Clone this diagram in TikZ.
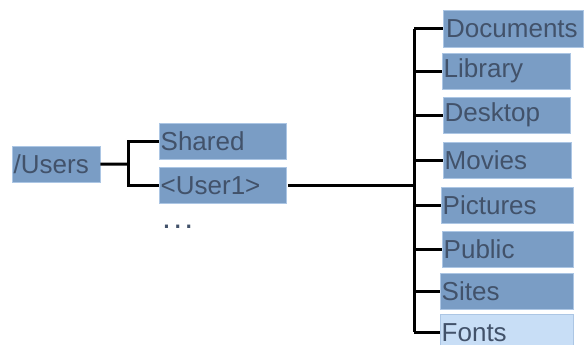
\documentclass[tikz,border=0pt]{standalone}
\usepackage{fontspec}
\setmainfont{Liberation Sans}
\usetikzlibrary{positioning}
\definecolor{dirfill}{RGB}{122,157,197}
\definecolor{dirtext}{RGB}{66,82,106}
\definecolor{dirline}{RGB}{172,198,228}
\definecolor{newfill}{RGB}{200,222,246}
\tikzset{
    %Define style for folder boxes
    folder/.style={
           rectangle,
           draw=dirline, thin,
           fill=dirfill,
           text=dirtext,
           anchor=north west,
           text width=#1,
           align=left,
           minimum height=36pt,
           inner xsep=1.5pt, inner ysep=0pt,
           font=\fontsize{26}{28}\selectfont,
           },
    % Define tree line style
    branch/.style={
           draw=black,
           line width=3pt,
           },
}
\begin{document}
\begin{tikzpicture}[x=1pt,y=1pt]
\useasboundingbox (0,0) rectangle (587,-345);
 %nodes
\node[folder=85pt](users) at (12,-146){/Users};
\node[folder=124pt](shared) at (159,-123){Shared};
\node[folder=124pt](user1) at (159,-167){<User1>};
\node[text=dirtext, font=\fontsize{32}{34}\selectfont, anchor=base west, inner sep=0pt](more) at (162,-228){.\hspace{2.2pt}.\hspace{2.2pt}.};
\node[folder=134pt, inner xsep=3pt, minimum height=37pt](docs) at (443,-10){Documents};
\node[folder=125pt](library) at (442,-53){Library};
\node[folder=124pt](desktop) at (443,-97){Desktop};
\node[folder=125pt](movies) at (443,-142){Movies};
\node[folder=129pt](pictures) at (441,-187){Pictures};
\node[folder=128pt](public) at (442,-231){Public};
\node[folder=130pt](sites) at (440,-273){Sites};
\node[folder=130pt, fill=newfill](fonts) at (440,-314){Fonts};
\coordinate (fork) at (128,-164);
\coordinate (trunk) at (414,0);
 %lines
\draw[branch] (users.east) -- (fork);
\draw[branch] (shared.west) -| (fork) |- (user1.west);
\draw[branch, shorten <=2pt] (user1.east) -- (user1.east -| trunk);
\draw[branch] (trunk |- docs.west) -- (trunk |- fonts.west);
\foreach \d in {docs,library,desktop,movies,pictures,public,sites,fonts}
    \draw[branch] (trunk |- \d.west) -- (\d.west);
\end{tikzpicture}
\end{document}
